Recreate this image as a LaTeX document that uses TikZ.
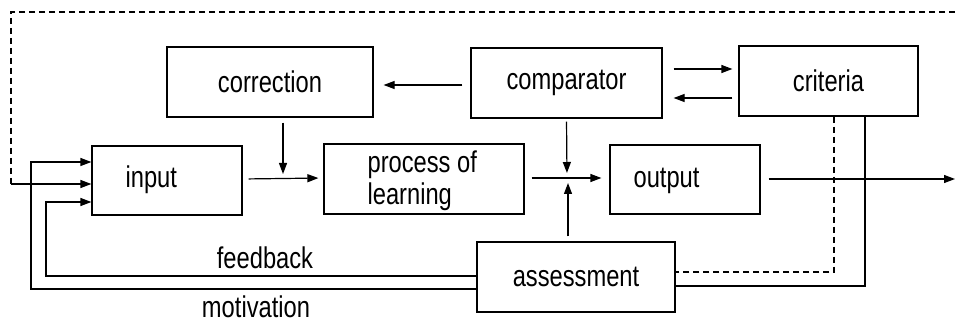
\documentclass[tikz,border=0pt]{standalone}
\usepackage{fontspec}
\setmainfont{Liberation Sans}[FakeStretch=0.79]
\usetikzlibrary{arrows.meta}
\begin{document}
\begin{tikzpicture}[x=1pt,y=-1pt,
  line width=1.2pt,
  every node/.style={font=\fontsize{30}{32}\selectfont},
  box/.style={draw, minimum height=70pt, inner sep=0pt},
  lbl/.style={inner sep=0pt},
  arr/.style={-{Triangle[length=11pt,width=8pt]}},
  dsh/.style={dash pattern=on 6pt off 4pt}]
\useasboundingbox (0,0) rectangle (955,323);
% boxes
\node[box, minimum width=206pt] (correction) at (270,82) {correction};
\node[box, minimum width=150pt, minimum height=69pt] (input) at (167,180.5) {};
\node[box, minimum width=200pt] (process) at (424,179) {};
\node[box, minimum width=191pt] (comparator) at (566.5,83) {comparator};
\node[box, minimum width=179pt] (criteria) at (828.5,81) {criteria};
\node[box, minimum width=150pt, minimum height=69pt] (output) at (685,179.5) {};
\node[box, minimum width=198pt] (assessment) at (576,277) {assessment};
% texts inside
\node[lbl, anchor=west] (inputtxt) at (125,180) {input};
\node[lbl, anchor=west] (outputtxt) at (633,181) {output};
\node[lbl, anchor=west, align=left] (processtxt) at (367,181) {process of\\learning};
% labels
\node[lbl, anchor=base] (feedback) at (265,268) {feedback};
\node[lbl, anchor=base] (motivation) at (256,317) {motivation};
% coordinates
\coordinate (j1) at (283,179);
\coordinate (j2) at (567,178);
\coordinate (outend) at (955,179);
\coordinate (dtr) at (955,12);
\coordinate (dtl) at (11,12);
\coordinate (dbl) at (11,184);
\coordinate (fbc) at (46,276);
\coordinate (mvc) at (31,289);
% arrows
\draw[arr, shorten <=8pt, shorten >=10pt] ([yshift=-2pt]comparator.west) -- ([yshift=-3pt]correction.east);
\draw[arr, shorten <=11pt, shorten >=6pt] ([yshift=14pt]comparator.east) coordinate (c0) -- (c0 -| criteria.west);
\draw[arr, shorten <=6pt, shorten >=11pt] ([yshift=-17pt]criteria.west) coordinate (c1) -- (c1 -| comparator.east);
\draw[arr, shorten <=5pt, shorten >=5pt] ([xshift=13pt]correction.south) -- (j1);
\draw[arr, shorten <=6pt, shorten >=5pt] ([yshift=1.5pt]input.east) -- ([yshift=1pt]process.west);
\draw[arr, shorten <=7pt, shorten >=8pt] ([yshift=1pt]process.east) -- ([yshift=1.5pt]output.west);
\draw[arr, shorten <=3pt, shorten >=5pt] (comparator.south) -- (j2);
\draw[arr, shorten >=5pt] ([xshift=-8pt,yshift=5pt]assessment.north) -- ([xshift=1pt]j2);
\draw[arr, shorten <=8pt] ([yshift=0.5pt]output.east) -- (outend);
\draw[dsh] ([xshift=5.5pt]criteria.south) |- ([yshift=5pt]assessment.east);
\draw ([xshift=36.5pt]criteria.south) |- ([yshift=-9pt]assessment.east);
\draw[arr] ([yshift=1pt]assessment.west) -- (fbc) |- ([yshift=-21.5pt]input.west);
\draw[arr] ([yshift=-12pt]assessment.west) -- (mvc) |- ([yshift=18.5pt]input.west);
\draw[dsh] (dtr) -- (dtl) -- (dbl);
\draw[arr] (dbl) -- (dbl -| input.west);
\end{tikzpicture}
\end{document}
